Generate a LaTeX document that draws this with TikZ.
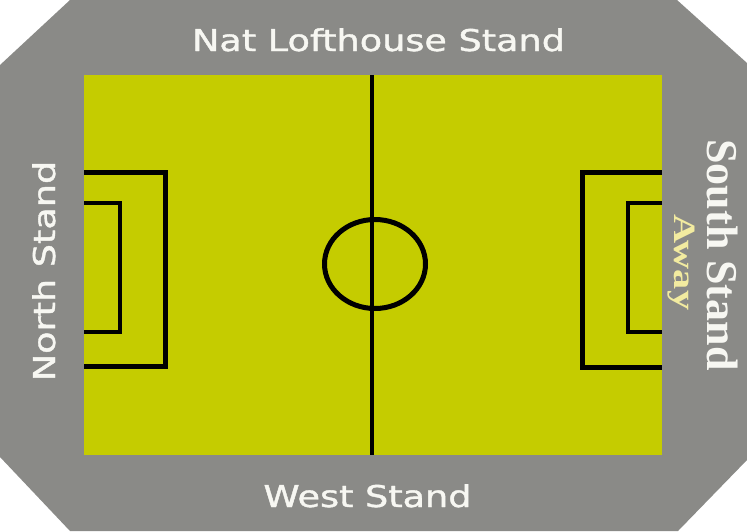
\documentclass[tikz,border=0pt]{standalone}
\usepackage{fontspec}
\setmainfont{Liberation Serif}
\newfontfamily\standsans[FakeBold=1.2]{DejaVu Sans}
\newfontfamily\standserif{Liberation Serif}
\definecolor{standgray}{HTML}{8A8A87}
\definecolor{pitchgreen}{HTML}{C5CC00}
\definecolor{awayyellow}{HTML}{F2EBA0}
\definecolor{labelwhite}{HTML}{F7F7F2}
\begin{document}
\begin{tikzpicture}[x=1pt,y=-1pt,
  sanslabel/.style={text=labelwhite,inner sep=0pt,anchor=base,font=\standsans\fontsize{30}{36}\selectfont},
  seriflabel/.style={text=labelwhite,inner sep=0pt,anchor=base,font=\standserif\bfseries\fontsize{44}{50}\selectfont},
  awaylabel/.style={text=awayyellow,inner sep=0pt,anchor=base,font=\standserif\bfseries\fontsize{31}{36}\selectfont},
  boxline/.style={line width=5pt,draw=black},
  innerline/.style={line width=3.5pt,draw=black},
  midline/.style={line width=4.5pt,draw=black},
]
\useasboundingbox (0,0) rectangle (747,531);
\fill[white] (0,0) rectangle (747,531);
% stands (octagon)
\fill[standgray] (70,0) -- (677,0) -- (747,63) -- (747,460) -- (678,531) -- (70,531) -- (0,457) -- (0,65) -- cycle;
% pitch
\fill[pitchgreen] (84,75) rectangle (662,455);
% halfway line and centre circle
\coordinate (halftop) at (372,75);
\coordinate (halfbot) at (372,455);
\draw[midline] (halftop) -- (halfbot);
\coordinate (centre) at (375,264);
\draw[line width=5pt] (centre) ellipse [x radius=50.5, y radius=44.5];
% left penalty areas
\draw[boxline] (84,172) -- (165,172) -- (165,366) -- (84,366);
\draw[innerline] (84,203) -- (120,203) -- (120,332) -- (84,332);
% right penalty areas
\draw[boxline] (662,172) -- (582,172) -- (582,367) -- (662,367);
\draw[innerline] (662,203) -- (628,203) -- (628,332) -- (662,332);
% labels
\node[sanslabel] (nat) at (378.5,51) {\scalebox{1.22}[1]{Nat Lofthouse Stand}};
\node[sanslabel] (west) at (367.5,507) {\scalebox{1.22}[1]{West Stand}};
\node[sanslabel,rotate=90] (north) at (55,271) {\scalebox{1.22}[1]{North Stand}};
\node[seriflabel,rotate=-90] (south) at (707,255) {South Stand};
\node[awaylabel,rotate=-90] (away) at (674,262.5) {\scalebox{1.3}[1]{Away}};
\end{tikzpicture}
\end{document}
